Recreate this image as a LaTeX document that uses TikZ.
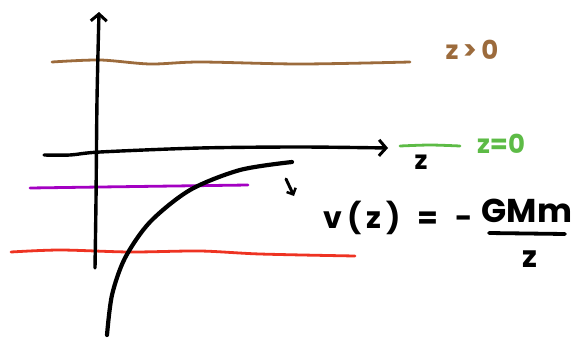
\documentclass[tikz,border=0pt]{standalone}
\usepackage{fontspec}
\setmainfont{Poppins}
\usetikzlibrary{arrows.meta}
\definecolor{brownline}{HTML}{9C6B3C}
\definecolor{greenline}{HTML}{5DBB46}
\definecolor{purpleline}{HTML}{A300C2}
\definecolor{redline}{HTML}{EE3322}
\tikzset{
  pen/.style={line width=3pt, line cap=round, line join=round},
  axis/.style={pen, line width=3.4pt, black},
  level/.style={pen, line width=2.8pt},
  hand/.style={font=\fontsize{26}{28}\selectfont\bfseries, inner sep=0pt},
  barb/.style={-{Straight Barb[length=7pt,width=16pt,line width=3pt]}}
}
\begin{document}
\begin{tikzpicture}[x=1pt,y=-1pt]
\useasboundingbox (0,0) rectangle (580,343);
% coordinates
\coordinate (yb) at (95,268);
\coordinate (yt) at (99,12);
\coordinate (xl) at (44,155);
\coordinate (xr) at (388,148);
% brown level
\draw[level, brownline] plot[smooth] coordinates {(52,62) (100,60) (150,64) (200,62) (300,64) (410,62)};
% purple level
\draw[level, purpleline] plot[smooth] coordinates {(30,188) (100,187) (248,185)};
% red level
\draw[level, redline] plot[smooth] coordinates {(11,252) (60,250) (130,252) (200,251) (260,254) (355,256)};
% green level
\draw[level, greenline] plot[smooth] coordinates {(400,146) (430,145) (460,146)};
% axes
\draw[axis, barb] plot[smooth] coordinates {(yb) (96,200) (97,100) (yt)};
\draw[axis, barb] plot[smooth] coordinates {(xl) (70,155) (100,152) (200,148) (300,147) (xr)};
% curve
\draw[pen, line width=4.2pt] plot[smooth] coordinates {(107,335) (112,295) (125,258) (150,222) (190,190) (240,170) (292,162)};
% small arrow
\coordinate (sa) at (286,179);
\coordinate (sb) at (294,196);
\draw[pen, -{Straight Barb[length=5pt,width=10pt,line width=2.5pt]}] (sa) -- (sb);
% labels
\node[hand, text=brownline] (gt) at (472,50) {z\,>\,0};
\node[hand, text=greenline] (eq) at (501,144) {z=0};
\node[hand] (zl) at (421,162) {z};
\node[hand, font=\fontsize{30}{32}\selectfont\bfseries] (lhs) at (398,218) {v\,(\,z\,)\;\;=\;\;-};
\node[hand, font=\fontsize{33}{35}\selectfont\bfseries] (num) at (527,211) {GMm};
\node[hand, font=\fontsize{30}{32}\selectfont\bfseries] (den) at (530,259) {z};
\coordinate (fl) at (489,233);
\coordinate (fr) at (565,234);
\draw[pen, line width=3.8pt] (fl) -- (fr);
\end{tikzpicture}
\end{document}
